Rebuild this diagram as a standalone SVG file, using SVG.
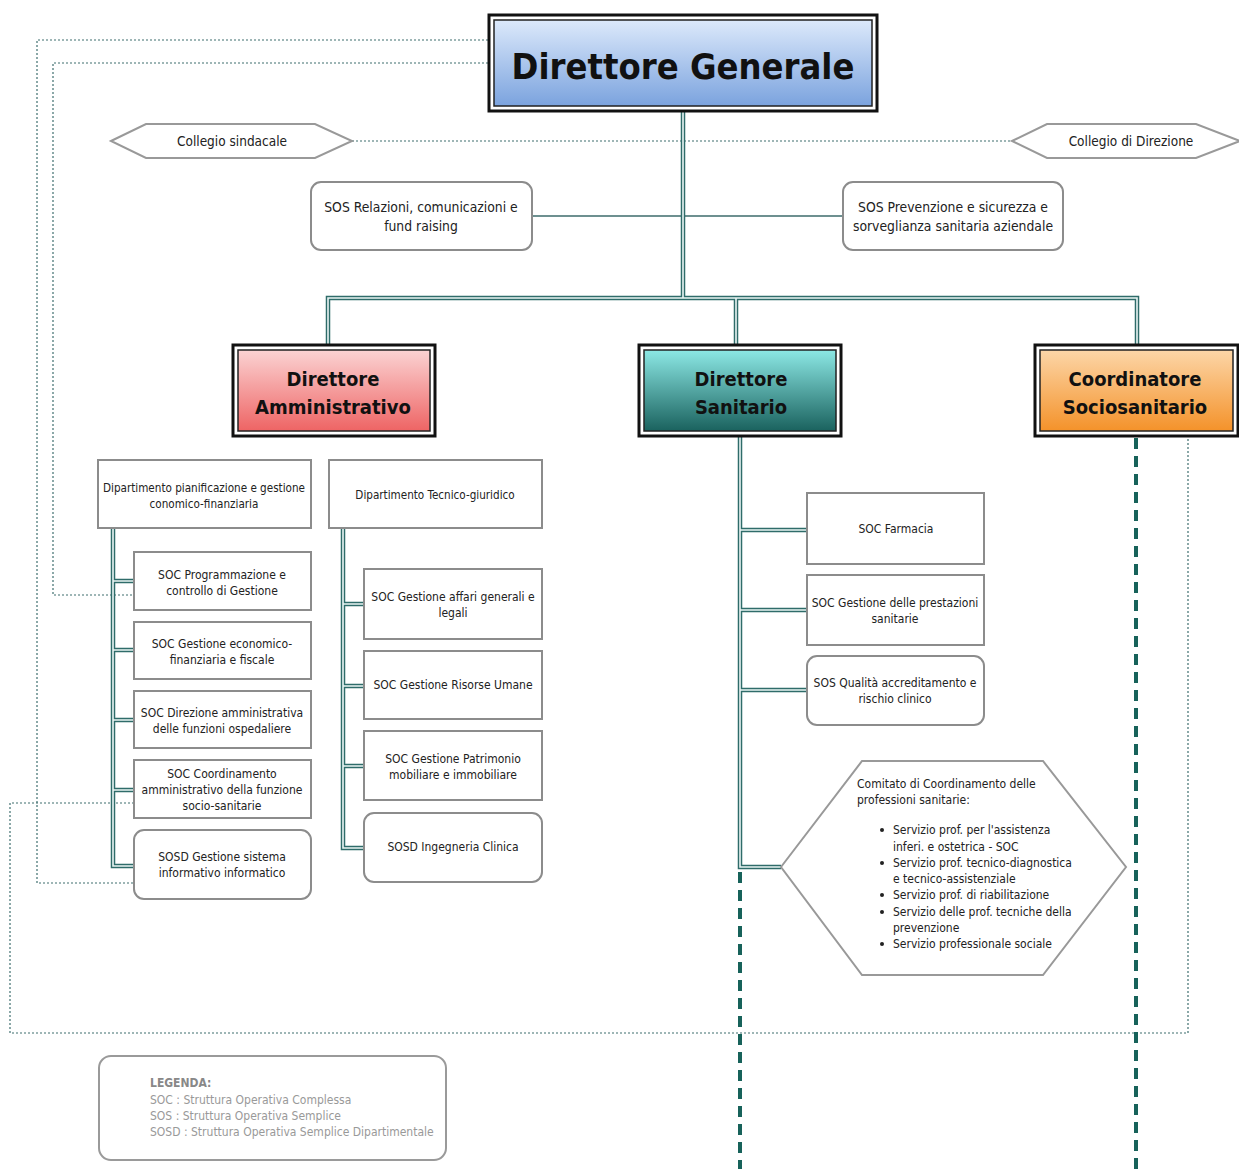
<svg xmlns="http://www.w3.org/2000/svg" width="1239" height="1169" viewBox="0 0 1239 1169">
<defs>
<linearGradient id="gDG" x1="0" y1="0" x2="0" y2="1"><stop offset="0" stop-color="#dce9fb"/><stop offset="1" stop-color="#7ba3de"/></linearGradient>
<linearGradient id="gAM" x1="0" y1="0" x2="0" y2="1"><stop offset="0" stop-color="#fbd3d3"/><stop offset="1" stop-color="#ee6464"/></linearGradient>
<linearGradient id="gSA" x1="0" y1="0" x2="0" y2="1"><stop offset="0" stop-color="#8ce8e5"/><stop offset="1" stop-color="#1a625e"/></linearGradient>
<linearGradient id="gCO" x1="0" y1="0" x2="0" y2="1"><stop offset="0" stop-color="#fcd6a8"/><stop offset="1" stop-color="#f4922a"/></linearGradient>
<style>
text{font-family:"DejaVu Sans Condensed","DejaVu Sans",sans-serif;font-stretch:condensed;fill:#222;}
.t{font-size:12px;text-anchor:middle;}
.s{font-size:12px;}
.h{font-weight:bold;font-size:20px;text-anchor:middle;fill:#111;}
.box{fill:#fff;stroke:#8c8c8c;stroke-width:2;}
.hex{fill:#fff;stroke:#999;stroke-width:2;}
.outer{fill:none;stroke:#111;stroke-width:3;}
.inner{stroke:#222;stroke-width:1.5;}
.dbl{fill:none;stroke:#2f6c6a;stroke-width:4.5;}
.dbli{fill:none;stroke:#eaf5f4;stroke-width:1.6;}
.dot{fill:none;stroke:#3f6f6f;stroke-width:1.2;stroke-dasharray:2,2;}
.tdash{fill:none;stroke:#17625a;stroke-width:4;stroke-dasharray:11,7;}
.leg{font-size:12px;fill:#999;}
</style>
</defs>
<rect width="1239" height="1169" fill="#fff"/>

<g id="connectors">
  <polyline class="dot" points="488,40 37,40 37,883 134,883"/>
  <polyline class="dot" points="488,63 53,63 53,595 134,595"/>
  <polyline class="dot" points="134,803 10,803 10,1033 1188,1033 1188,436"/>
  <line class="dot" x1="352" y1="141" x2="1012" y2="141"/>
  <line x1="532" y1="216" x2="843" y2="216" stroke="#3d6b6b" stroke-width="1.6"/>
  <path class="dbl" d="M683,112 V298 M328,344 V298 H1137 V344 M736,298 V344"/>
  <path class="dbli" d="M683,112 V298 M328,344 V298 H1137 V344 M736,298 V344"/>
  <path class="dbl" d="M113,528 V866 H134 M113,581 H134 M113,650 H134 M113,720 H134 M113,790 H134"/>
  <path class="dbli" d="M113,528 V866 H134 M113,581 H134 M113,650 H134 M113,720 H134 M113,790 H134"/>
  <path class="dbl" d="M343,528 V848 H364 M343,604 H364 M343,686 H364 M343,766 H364"/>
  <path class="dbli" d="M343,528 V848 H364 M343,604 H364 M343,686 H364 M343,766 H364"/>
  <path class="dbl" d="M740,436 V867 H781 M740,530 H807 M740,610 H807 M740,690 H807"/>
  <path class="dbli" d="M740,436 V867 H781 M740,530 H807 M740,610 H807 M740,690 H807"/>
  <line class="tdash" x1="740" y1="872" x2="740" y2="1169"/>
  <line class="tdash" x1="1136" y1="438" x2="1136" y2="1169"/>
</g>

<g id="dg">
  <rect class="outer" x="489" y="15" width="388" height="96"/>
  <rect class="inner" x="494" y="20" width="378" height="86" fill="url(#gDG)"/>
  <text x="683" y="79" style="font-size:36px;font-weight:bold;text-anchor:middle;fill:#111;">Direttore Generale</text>
</g>

<g id="collegio-sindacale">
  <polygon class="hex" points="111,141 146,124 315,124 352,141 315,158 146,158"/>
  <text class="t" x="232" y="146" style="font-size:13.5px">Collegio sindacale</text>
</g>
<g id="collegio-direzione">
  <polygon class="hex" points="1012,141 1047,124 1196,124 1240,141 1196,158 1047,158"/>
  <text class="t" x="1131" y="146" style="font-size:13.5px">Collegio di Direzione</text>
</g>

<g id="sos-relazioni">
  <rect class="box" x="311" y="182" width="221" height="68" rx="10"/>
  <text class="t" x="421" y="212" style="font-size:13.8px">SOS Relazioni, comunicazioni e</text>
  <text class="t" x="421" y="231" style="font-size:13.8px">fund raising</text>
</g>
<g id="sos-prevenzione">
  <rect class="box" x="843" y="182" width="220" height="68" rx="10"/>
  <text class="t" x="953" y="212" style="font-size:13.8px">SOS Prevenzione e sicurezza e</text>
  <text class="t" x="953" y="231" style="font-size:13.8px">sorveglianza sanitaria aziendale</text>
</g>

<g id="dir-amm">
  <rect class="outer" x="233" y="345" width="202" height="91"/>
  <rect class="inner" x="238" y="350" width="192" height="81" fill="url(#gAM)"/>
  <text class="h" x="333" y="386">Direttore</text>
  <text class="h" x="333" y="414">Amministrativo</text>
</g>
<g id="dir-san">
  <rect class="outer" x="639" y="345" width="202" height="91"/>
  <rect class="inner" x="644" y="350" width="192" height="81" fill="url(#gSA)"/>
  <text class="h" x="741" y="386">Direttore</text>
  <text class="h" x="741" y="414">Sanitario</text>
</g>
<g id="coord-soc">
  <rect class="outer" x="1035" y="345" width="203" height="91"/>
  <rect class="inner" x="1040" y="350" width="193" height="81" fill="url(#gCO)"/>
  <text class="h" x="1135" y="386">Coordinatore</text>
  <text class="h" x="1135" y="414">Sociosanitario</text>
</g>

<g id="dip-pianificazione">
  <rect class="box" x="98" y="460" width="213" height="68"/>
  <text class="t" x="204" y="492" style="font-size:11.6px">Dipartimento pianificazione e gestione</text>
  <text class="t" x="204" y="508" style="font-size:11.6px">conomico-finanziaria</text>
</g>
<g id="dip-tecnico">
  <rect class="box" x="329" y="460" width="213" height="68"/>
  <text class="t" x="435" y="499" style="font-size:11.6px">Dipartimento Tecnico-giuridico</text>
</g>

<g id="soc-programmazione">
  <rect class="box" x="134" y="552" width="177" height="58"/>
  <text class="t" x="222" y="579">SOC Programmazione e</text>
  <text class="t" x="222" y="595">controllo di Gestione</text>
</g>
<g id="soc-economico">
  <rect class="box" x="134" y="622" width="177" height="57"/>
  <text class="t" x="222" y="648">SOC Gestione economico-</text>
  <text class="t" x="222" y="664">finanziaria e fiscale</text>
</g>
<g id="soc-direzione">
  <rect class="box" x="134" y="691" width="177" height="57"/>
  <text class="t" x="222" y="717">SOC Direzione amministrativa</text>
  <text class="t" x="222" y="733">delle funzioni ospedaliere</text>
</g>
<g id="soc-coordinamento">
  <rect class="box" x="134" y="760" width="177" height="58"/>
  <text class="t" x="222" y="778">SOC Coordinamento</text>
  <text class="t" x="222" y="794">amministrativo della funzione</text>
  <text class="t" x="222" y="810">socio-sanitarie</text>
</g>
<g id="sosd-sistema">
  <rect class="box" x="134" y="830" width="177" height="69" rx="10"/>
  <text class="t" x="222" y="861">SOSD Gestione sistema</text>
  <text class="t" x="222" y="877">informativo informatico</text>
</g>

<g id="soc-affari">
  <rect class="box" x="364" y="569" width="178" height="70"/>
  <text class="t" x="453" y="601">SOC Gestione affari generali e</text>
  <text class="t" x="453" y="617">legali</text>
</g>
<g id="soc-risorse">
  <rect class="box" x="364" y="651" width="178" height="68"/>
  <text class="t" x="453" y="689">SOC Gestione Risorse Umane</text>
</g>
<g id="soc-patrimonio">
  <rect class="box" x="364" y="731" width="178" height="69"/>
  <text class="t" x="453" y="763">SOC Gestione Patrimonio</text>
  <text class="t" x="453" y="779">mobiliare e immobiliare</text>
</g>
<g id="sosd-ingegneria">
  <rect class="box" x="364" y="813" width="178" height="69" rx="10"/>
  <text class="t" x="453" y="851">SOSD Ingegneria Clinica</text>
</g>

<g id="soc-farmacia">
  <rect class="box" x="807" y="493" width="177" height="71"/>
  <text class="t" x="896" y="533">SOC Farmacia</text>
</g>
<g id="soc-prestazioni">
  <rect class="box" x="807" y="575" width="177" height="70"/>
  <text class="t" x="895" y="607">SOC Gestione delle prestazioni</text>
  <text class="t" x="895" y="623">sanitarie</text>
</g>
<g id="sos-qualita">
  <rect class="box" x="807" y="656" width="177" height="69" rx="10"/>
  <text class="t" x="895" y="687">SOS Qualità accreditamento e</text>
  <text class="t" x="895" y="703">rischio clinico</text>
</g>

<g id="comitato">
  <polygon class="hex" points="781,867 862,761 1043,761 1126,867 1043,975 862,975"/>
  <text class="s" x="857" y="788">Comitato di Coordinamento delle</text>
  <text class="s" x="857" y="804">professioni sanitarie:</text>
  <circle cx="882" cy="830" r="2" fill="#222"/>
  <circle cx="882" cy="863" r="2" fill="#222"/>
  <circle cx="882" cy="895" r="2" fill="#222"/>
  <circle cx="882" cy="912" r="2" fill="#222"/>
  <circle cx="882" cy="944" r="2" fill="#222"/>
  <text class="s" x="893" y="834">Servizio prof. per l'assistenza</text>
  <text class="s" x="893" y="851">inferi. e ostetrica - SOC</text>
  <text class="s" x="893" y="867">Servizio prof. tecnico-diagnostica</text>
  <text class="s" x="893" y="883">e tecnico-assistenziale</text>
  <text class="s" x="893" y="899">Servizio prof. di riabilitazione</text>
  <text class="s" x="893" y="916">Servizio delle prof. tecniche della</text>
  <text class="s" x="893" y="932">prevenzione</text>
  <text class="s" x="893" y="948">Servizio professionale sociale</text>
</g>

<g id="legenda">
  <rect x="99" y="1056" width="347" height="104" rx="12" fill="#fff" stroke="#9a9a9a" stroke-width="2"/>
  <text class="leg" x="150" y="1087" style="font-weight:bold;fill:#888">LEGENDA:</text>
  <text class="leg" x="150" y="1104">SOC : Struttura Operativa Complessa</text>
  <text class="leg" x="150" y="1120">SOS : Struttura Operativa Semplice</text>
  <text class="leg" x="150" y="1136">SOSD : Struttura Operativa Semplice Dipartimentale</text>
</g>
</svg>
